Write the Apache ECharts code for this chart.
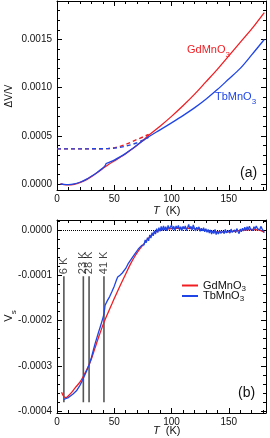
<!DOCTYPE html>
<html><head><meta charset="utf-8">
<script src="https://cdn.jsdelivr.net/npm/echarts@6/dist/echarts.min.js"></script>
<style>html,body{margin:0;padding:0;background:#fff}#c{width:270px;height:438px}</style>
</head><body><div id="c"></div>
<script>
// ---------- Panel (a): ΔV/V vs T ----------
const gdTopT = [3, 6, 10, 15, 20, 25, 30, 35, 40, 45, 50, 55, 60, 65, 70, 75, 80, 90, 100, 110, 120, 130, 140, 150, 160, 170, 181];
const gdTopV = [0, -0.000006, -0.000009, -0.000003, 0.000014, 0.00004, 0.000076, 0.000116, 0.00016, 0.000203, 0.00024, 0.000276, 0.000314, 0.000357, 0.000403, 0.000452, 0.000505, 0.0006, 0.000702, 0.000812, 0.00093, 0.00106, 0.00119, 0.00133, 0.00147, 0.00161, 0.00178];
const tbTopT = [3, 6, 10, 15, 20, 25, 30, 35, 40, 42, 43, 45, 50, 55, 60, 65, 70, 75, 80, 90, 100, 110, 120, 130, 140, 150, 160, 170, 181];
const tbTopV = [0, -0.000004, -0.000006, 0.0, 0.000018, 0.000045, 0.00008, 0.00012, 0.000165, 0.00019, 0.000212, 0.000222, 0.000248, 0.000281, 0.000318, 0.00036, 0.000405, 0.000448, 0.00049, 0.000562, 0.000635, 0.00071, 0.00079, 0.00088, 0.00098, 0.00109, 0.0012, 0.00134, 0.0015];
const gdDashT = [0, 10, 20, 30, 40, 45, 50, 55, 60, 65, 70, 75, 80];
const gdDashV = [0.000365, 0.000365, 0.000365, 0.000365, 0.000366, 0.000368, 0.000375, 0.00039, 0.00041, 0.000435, 0.000463, 0.000488, 0.000515];
const tbDashT = [0, 10, 20, 30, 40, 45, 50, 55, 60, 65, 70, 75, 80];
const tbDashV = [0.000365, 0.000365, 0.000365, 0.000365, 0.000366, 0.000368, 0.000372, 0.00038, 0.000392, 0.000408, 0.000428, 0.000455, 0.000485];

// ---------- Panel (b): V_s vs T ----------
const gdBotT = [4, 6, 8, 10, 13, 16, 20, 23, 27, 30, 33, 37, 41, 44, 48, 52, 56, 60, 64, 68, 72, 76, 80, 84, 88, 92, 100, 110, 120, 130, 140, 150, 160, 170, 176, 181];
const gdBotV = [-0.000358, -0.000368, -0.00037, -0.000366, -0.000358, -0.000348, -0.000336, -0.000323, -0.000303, -0.000285, -0.000262, -0.000232, -0.000204, -0.000186, -0.000163, -0.00014, -0.000118, -0.000097, -0.000076, -0.000058, -0.000043, -0.00003, -0.000018, -0.000008, -0.000002, 0.000001, 0.000003, 0.000004, 0.000003, -0.000001, -0.000004, -0.000004, -0.000001, 0.000001, 0.0, -0.000005];
const tbBotT = [6, 8, 10, 14, 17, 20, 22, 25, 28, 30, 33, 36, 38, 40, 41, 42, 44, 46, 48, 50, 52, 53, 55, 57, 60, 62, 65, 68, 71, 74,
  76, 77, 78, 79, 80, 81, 82, 83, 84, 85, 86, 87, 88, 89, 90, 91, 92, 93, 94, 95, 96, 97, 98, 99, 100,
  101, 102, 103, 104, 105, 106, 107, 108, 109, 110, 111, 112, 113, 114, 115, 116, 117, 118, 119, 120,
  121, 122, 123, 124, 125, 126, 127, 128, 129, 130, 131, 132, 133, 134, 135, 136, 137, 138, 139, 140,
  141, 142, 143, 144, 145, 146, 147, 148, 149, 150, 151, 152, 153, 154, 155, 156, 157, 158, 159, 160,
  161, 162, 163, 164, 165, 166, 167, 168, 169, 170, 171, 172, 173, 174, 175, 176, 177, 178, 179, 180, 181];
const tbBotV = [-374e-6, -372e-6, -370e-6, -362e-6, -355e-6, -343e-6, -333e-6, -316e-6, -298e-6, -282e-6, -253e-6, -228e-6, -212e-6, -195e-6, -186e-6, -166e-6, -156e-6, -147e-6, -136e-6, -124e-6, -110e-6, -104e-6, -100e-6, -95e-6, -85e-6, -75e-6, -64e-6, -53e-6, -42e-6, -34e-6,
  -33e-6, -22e-6, -28e-6, -17e-6, -24e-6, -11e-6, -18e-6, -6e-6, -13e-6, -2e-6, -9e-6, 3e-6, -6e-6, 5e-6, -3e-6, 8e-6, -1e-6, 9e-6, 0, 7e-6, -2e-6, 10e-6, 2e-6, 6e-6, 11e-6,
  1e-6, 8e-6, -1e-6, 9e-6, 3e-6, 10e-6, 0, 7e-6, -2e-6, 8e-6, 2e-6, 9e-6, -1e-6, 5e-6, 12e-6, 2e-6, 8e-6, 0, 11e-6, 4e-6,
  -2e-6, 6e-6, 1e-6, 7e-6, -3e-6, 4e-6, -2e-6, 5e-6, -4e-6, 3e-6, -5e-6, 1e-6, -7e-6, 0, -9e-6, -2e-6, -8e-6, 1e-6, -10e-6, -3e-6,
  -9e-6, -1e-6, -7e-6, -11e-6, -3e-6, -8e-6, 1e-6, -6e-6, -10e-6, -2e-6, -7e-6, 2e-6, -5e-6, -9e-6, 0, -6e-6, 3e-6, -3e-6, -8e-6, 2e-6,
  -4e-6, 4e-6, -2e-6, 6e-6, -1e-6, 7e-6, 1e-6, 8e-6, 2e-6, 5e-6, -1e-6, 7e-6, 2e-6, 9e-6, 3e-6, 6e-6, 0, 8e-6, 3e-6, -1e-6, -6e-6];
const markerT = [6, 23, 28, 41];
const markerLabels = ['6 K', '23 K', '28 K', '41 K'];
const markerTop = -0.000102;
const markerBottom = -0.00038;

// ---------- Axes: tick labels and tick steps ----------
const xLabels = [0, 50, 100, 150];
const yTopLabels = [0, 0.0005, 0.001, 0.0015];
const yBotLabels = [-0.0004, -0.0003, -0.0002, -0.0001, 0];
const xRange = [0, 182.5];
const yTopRange = [-0.0000625, 0.0019];
const yBotRange = [-0.000404, 0.000022];
const xStep = [50, 10];          // major, minor
const yTopStep = [0.0005, 0.0001];
const yBotStep = [0.0001, 0.00002];

const RED = '#f01e23', BLUE = '#1f45e6';
const FONT = 'Liberation Sans, Arial, Helvetica, sans-serif';

function ax(kind, grid, pos, step, range, len, labelVals, line, fmt) {
  return {
    type: 'value', gridIndex: grid, position: pos, min: range[0], max: range[1],
    minInterval: step, maxInterval: step, splitNumber: 5,
    axisLine: {show: line, onZero: false, lineStyle: {color: '#000', width: 1}},
    axisTick: {show: true, inside: true, length: len, lineStyle: {color: '#000', width: 1}},
    axisLabel: labelVals ? {show: true, customValues: labelVals, fontSize: 10, color: '#111', fontFamily: FONT,
      margin: kind === 'x' ? 4 : 5, formatter: fmt} : {show: false},
    splitLine: {show: false}, minorTick: {show: false}, axisPointer: {show: false}
  };
}
const yfmt = v => (Math.abs(v) < 1e-12 ? 0 : v).toFixed(4);
const xfmt = v => String(Math.round(v));

const xAxes = [], yAxes = [];
[0, 1].forEach(g => {
  xAxes.push(ax('x', g, 'bottom', xStep[0], xRange, 5, xLabels, true, xfmt));
  xAxes.push(ax('x', g, 'bottom', xStep[1], xRange, 3, null, false));
  xAxes.push(ax('x', g, 'top', xStep[0], xRange, 5, null, true));
  xAxes.push(ax('x', g, 'top', xStep[1], xRange, 3, null, false));
  const st = g === 0 ? yTopStep : yBotStep;
  const lb = g === 0 ? yTopLabels : yBotLabels;
  const rg = g === 0 ? yTopRange : yBotRange;
  yAxes.push(ax('y', g, 'left', st[0], rg, 5, lb, true, yfmt));
  yAxes.push(ax('y', g, 'left', st[1], rg, 3, null, false));
  yAxes.push(ax('y', g, 'right', st[0], rg, 5, null, true));
  yAxes.push(ax('y', g, 'right', st[1], rg, 3, null, false));
});

const zip = (a, b) => a.map((t, i) => [t, b[i]]);
function line(name, g, T, V, color, extra) {
  return Object.assign({
    type: 'line', name, xAxisIndex: g * 4, yAxisIndex: g * 4, data: zip(T, V),
    symbol: 'none', smooth: false, lineStyle: {color, width: 1.3}, itemStyle: {color}, silent: true, z: 5
  }, extra || {});
}

const series = [
  line('GdMnO3', 0, gdDashT, gdDashV, RED, {lineStyle: {color: RED, width: 1.4, type: [4, 3]}}),
  line('TbMnO3', 0, tbDashT, tbDashV, BLUE, {lineStyle: {color: BLUE, width: 1.4, type: [4, 3]}}),
  line('GdMnO3', 0, gdTopT, gdTopV, RED, {smooth: 0.3}),
  line('TbMnO3', 0, tbTopT, tbTopV, BLUE, {smooth: 0.3}),
  line('GdMnO3', 1, gdBotT, gdBotV, RED, {smooth: 0.3, markLine: {
    silent: true, symbol: ['none', 'none'], label: {show: false},
    lineStyle: {color: '#000', type: 'dotted', width: 1}, data: [{yAxis: 0}]}}),
  line('TbMnO3', 1, tbBotT, tbBotV, BLUE, {z: 6})
];
markerT.forEach((t, i) => {
  series.push({type: 'line', xAxisIndex: 4, yAxisIndex: 4, data: [[t, markerTop], [t, markerBottom]],
    symbol: 'none', lineStyle: {color: '#555', width: 1.6}, silent: true, z: 3});
});
series.push({type: 'scatter', xAxisIndex: 4, yAxisIndex: 4, symbolSize: 0, silent: true,
  data: markerT.map(t => [t, markerTop]),
  label: {show: true, position: 'top', distance: 2, rotate: 90, align: 'left', verticalAlign: 'middle',
    fontSize: 11, color: '#111', fontFamily: FONT, formatter: p => markerLabels[p.dataIndex]}});

const subRich = (c, lh) => ({
  m: {fontSize: 11, fontFamily: FONT, color: c, lineHeight: lh || 12},
  s: {fontSize: 8, fontFamily: FONT, color: c, lineHeight: (lh || 12) + 5, verticalAlign: 'bottom'}
});
function gtext(x, y, text, rich, fill, font, rot, align) {
  return {type: 'text', x, y, rotation: rot || 0, silent: true,
    style: {text, rich, fill, font, align: align || 'left', verticalAlign: 'middle'}};
}

const option = {
  animation: false,
  grid: [
    {left: 57, top: 1, width: 209, height: 189},
    {left: 57, top: 220, width: 209, height: 193}
  ],
  xAxis: xAxes, yAxis: yAxes,
  legend: {
    data: ['GdMnO3', 'TbMnO3'], orient: 'vertical', left: 177, top: 275, icon: 'rect',
    itemWidth: 16, itemHeight: 2, itemGap: -2, selectedMode: false,
    formatter: n => '{m|' + n.slice(0, 5) + '}{s|3}',
    textStyle: {color: '#111', rich: subRich('#111', 9)}
  },
  series,
  graphic: [
    gtext(187, 50, '{m|GdMnO}{s|3}', subRich(RED), RED, '11px ' + FONT),
    gtext(215, 97, '{m|TbMnO}{s|3}', subRich(BLUE), BLUE, '11px ' + FONT),
    gtext(240, 173, '(a)', null, '#111', '14px ' + FONT),
    gtext(238, 393, '(b)', null, '#111', '14px ' + FONT),
    gtext(9, 96, 'ΔV/V', null, '#111', '10px ' + FONT, Math.PI / 2, 'center'),
    gtext(9, 316, '{v|V}{s|s}', {v: {fontSize: 11, fontFamily: FONT, color: '#111', lineHeight: 12},
      s: {fontSize: 8, fontFamily: FONT, color: '#111', lineHeight: 17, verticalAlign: 'bottom'}}, '#111', '11px ' + FONT, Math.PI / 2, 'center'),
    gtext(153, 211, '{i|T}{n|  (K)}', {i: {fontSize: 11, fontStyle: 'italic', fontFamily: FONT, color: '#111'},
      n: {fontSize: 11, fontFamily: FONT, color: '#111'}}, '#111', '11px ' + FONT),
    gtext(153, 431, '{i|T}{n|  (K)}', {i: {fontSize: 11, fontStyle: 'italic', fontFamily: FONT, color: '#111'},
      n: {fontSize: 11, fontFamily: FONT, color: '#111'}}, '#111', '11px ' + FONT)
  ]
};
const chart = echarts.init(document.getElementById('c'), null, {renderer: 'canvas'});
chart.setOption(option);
</script>
</body></html>
